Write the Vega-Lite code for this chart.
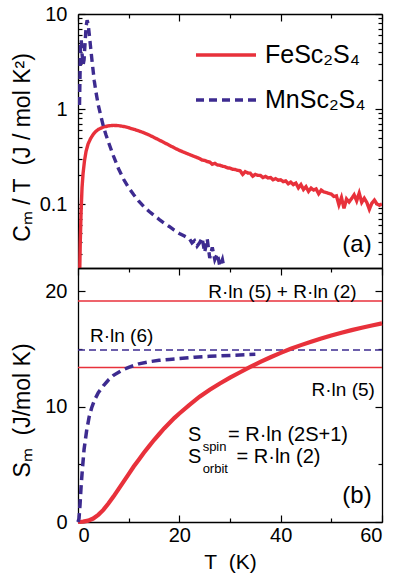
{
  "$schema": "https://vega.github.io/schema/vega-lite/v6.json",
  "padding": {"left": 10, "top": 4, "right": 5, "bottom": 5},
  "background": "white",
  "config": {
    "font": "Liberation Sans",
    "view": {"stroke": null},
    "axis": {
      "grid": false,
      "domainColor": "black",
      "domainWidth": 1.3,
      "tickColor": "black",
      "tickWidth": 1.2,
      "labelColor": "black",
      "labelFontSize": 20,
      "titleColor": "black",
      "titleFontSize": 23,
      "titleFontWeight": "normal"
    },
    "text": {"color": "black"}
  },
  "datasets": {
    "cT": [
      {"T": 0.3, "C": 0.015, "s": "FeSc₂S₄"}, {"T": 0.45, "C": 0.04, "s": "FeSc₂S₄"}, {"T": 0.6, "C": 0.08, "s": "FeSc₂S₄"},
      {"T": 0.8, "C": 0.15, "s": "FeSc₂S₄"}, {"T": 1.0, "C": 0.21, "s": "FeSc₂S₄"}, {"T": 1.3, "C": 0.29, "s": "FeSc₂S₄"},
      {"T": 1.6, "C": 0.36, "s": "FeSc₂S₄"}, {"T": 2.0, "C": 0.43, "s": "FeSc₂S₄"}, {"T": 2.5, "C": 0.49, "s": "FeSc₂S₄"},
      {"T": 3.0, "C": 0.54, "s": "FeSc₂S₄"}, {"T": 3.5, "C": 0.58, "s": "FeSc₂S₄"}, {"T": 4.0, "C": 0.61, "s": "FeSc₂S₄"},
      {"T": 5.0, "C": 0.645, "s": "FeSc₂S₄"}, {"T": 6.0, "C": 0.665, "s": "FeSc₂S₄"}, {"T": 7.0, "C": 0.672, "s": "FeSc₂S₄"},
      {"T": 8.0, "C": 0.668, "s": "FeSc₂S₄"}, {"T": 9.0, "C": 0.655, "s": "FeSc₂S₄"}, {"T": 10, "C": 0.635, "s": "FeSc₂S₄"},
      {"T": 11, "C": 0.612, "s": "FeSc₂S₄"}, {"T": 12, "C": 0.588, "s": "FeSc₂S₄"}, {"T": 13, "C": 0.562, "s": "FeSc₂S₄"},
      {"T": 14, "C": 0.533, "s": "FeSc₂S₄"}, {"T": 15, "C": 0.502, "s": "FeSc₂S₄"}, {"T": 16, "C": 0.472, "s": "FeSc₂S₄"},
      {"T": 17, "C": 0.443, "s": "FeSc₂S₄"}, {"T": 18, "C": 0.416, "s": "FeSc₂S₄"}, {"T": 19, "C": 0.39, "s": "FeSc₂S₄"},
      {"T": 20, "C": 0.367, "s": "FeSc₂S₄"}, {"T": 21, "C": 0.349, "s": "FeSc₂S₄"}, {"T": 22, "C": 0.332, "s": "FeSc₂S₄"},
      {"T": 23, "C": 0.316, "s": "FeSc₂S₄"}, {"T": 24, "C": 0.301, "s": "FeSc₂S₄"}, {"T": 24.5, "C": 0.29, "s": "FeSc₂S₄"},
      {"T": 25, "C": 0.288, "s": "FeSc₂S₄"}, {"T": 25.5, "C": 0.28, "s": "FeSc₂S₄"}, {"T": 26, "C": 0.276, "s": "FeSc₂S₄"},
      {"T": 26.5, "C": 0.262, "s": "FeSc₂S₄"}, {"T": 27, "C": 0.268, "s": "FeSc₂S₄"}, {"T": 27.5, "C": 0.258, "s": "FeSc₂S₄"},
      {"T": 28, "C": 0.256, "s": "FeSc₂S₄"}, {"T": 28.5, "C": 0.25, "s": "FeSc₂S₄"}, {"T": 29, "C": 0.247, "s": "FeSc₂S₄"},
      {"T": 29.5, "C": 0.24, "s": "FeSc₂S₄"}, {"T": 30, "C": 0.239, "s": "FeSc₂S₄"}, {"T": 30.5, "C": 0.232, "s": "FeSc₂S₄"},
      {"T": 31, "C": 0.231, "s": "FeSc₂S₄"}, {"T": 31.5, "C": 0.226, "s": "FeSc₂S₄"}, {"T": 32, "C": 0.224, "s": "FeSc₂S₄"},
      {"T": 32.5, "C": 0.205, "s": "FeSc₂S₄"}, {"T": 33, "C": 0.219, "s": "FeSc₂S₄"}, {"T": 33.5, "C": 0.212, "s": "FeSc₂S₄"},
      {"T": 34, "C": 0.211, "s": "FeSc₂S₄"}, {"T": 34.5, "C": 0.196, "s": "FeSc₂S₄"}, {"T": 35, "C": 0.205, "s": "FeSc₂S₄"},
      {"T": 35.5, "C": 0.2, "s": "FeSc₂S₄"}, {"T": 36, "C": 0.2, "s": "FeSc₂S₄"}, {"T": 36.5, "C": 0.19, "s": "FeSc₂S₄"},
      {"T": 37, "C": 0.195, "s": "FeSc₂S₄"}, {"T": 37.5, "C": 0.188, "s": "FeSc₂S₄"}, {"T": 38, "C": 0.19, "s": "FeSc₂S₄"},
      {"T": 38.5, "C": 0.18, "s": "FeSc₂S₄"}, {"T": 39, "C": 0.185, "s": "FeSc₂S₄"}, {"T": 39.5, "C": 0.178, "s": "FeSc₂S₄"},
      {"T": 40, "C": 0.18, "s": "FeSc₂S₄"}, {"T": 40.5, "C": 0.172, "s": "FeSc₂S₄"}, {"T": 41, "C": 0.175, "s": "FeSc₂S₄"},
      {"T": 41.5, "C": 0.163, "s": "FeSc₂S₄"}, {"T": 42, "C": 0.17, "s": "FeSc₂S₄"}, {"T": 42.5, "C": 0.16, "s": "FeSc₂S₄"},
      {"T": 43, "C": 0.166, "s": "FeSc₂S₄"}, {"T": 43.5, "C": 0.148, "s": "FeSc₂S₄"}, {"T": 44, "C": 0.16, "s": "FeSc₂S₄"},
      {"T": 44.5, "C": 0.142, "s": "FeSc₂S₄"}, {"T": 45, "C": 0.152, "s": "FeSc₂S₄"}, {"T": 45.5, "C": 0.136, "s": "FeSc₂S₄"},
      {"T": 46, "C": 0.147, "s": "FeSc₂S₄"}, {"T": 46.5, "C": 0.14, "s": "FeSc₂S₄"}, {"T": 47, "C": 0.144, "s": "FeSc₂S₄"},
      {"T": 47.5, "C": 0.128, "s": "FeSc₂S₄"}, {"T": 48, "C": 0.14, "s": "FeSc₂S₄"}, {"T": 48.5, "C": 0.134, "s": "FeSc₂S₄"},
      {"T": 49, "C": 0.132, "s": "FeSc₂S₄"}, {"T": 49.5, "C": 0.129, "s": "FeSc₂S₄"}, {"T": 50, "C": 0.127, "s": "FeSc₂S₄"},
      {"T": 50.5, "C": 0.12, "s": "FeSc₂S₄"}, {"T": 51, "C": 0.122, "s": "FeSc₂S₄"}, {"T": 51.5, "C": 0.098, "s": "FeSc₂S₄"},
      {"T": 52, "C": 0.117, "s": "FeSc₂S₄"}, {"T": 52.5, "C": 0.09, "s": "FeSc₂S₄"}, {"T": 53, "C": 0.113, "s": "FeSc₂S₄"},
      {"T": 53.5, "C": 0.105, "s": "FeSc₂S₄"}, {"T": 54, "C": 0.114, "s": "FeSc₂S₄"}, {"T": 54.5, "C": 0.125, "s": "FeSc₂S₄"},
      {"T": 55, "C": 0.108, "s": "FeSc₂S₄"}, {"T": 55.5, "C": 0.13, "s": "FeSc₂S₄"}, {"T": 56, "C": 0.104, "s": "FeSc₂S₄"},
      {"T": 56.5, "C": 0.115, "s": "FeSc₂S₄"}, {"T": 57, "C": 0.104, "s": "FeSc₂S₄"}, {"T": 57.5, "C": 0.088, "s": "FeSc₂S₄"},
      {"T": 58, "C": 0.102, "s": "FeSc₂S₄"}, {"T": 58.5, "C": 0.11, "s": "FeSc₂S₄"}, {"T": 59, "C": 0.1, "s": "FeSc₂S₄"},
      {"T": 59.5, "C": 0.097, "s": "FeSc₂S₄"}, {"T": 60, "C": 0.1, "s": "FeSc₂S₄"},
      {"T": 0.3, "C": 1.1, "s": "MnSc₂S₄"}, {"T": 0.4, "C": 2.2, "s": "MnSc₂S₄"}, {"T": 0.5, "C": 4.8, "s": "MnSc₂S₄"},
      {"T": 0.65, "C": 5.3, "s": "MnSc₂S₄"}, {"T": 0.8, "C": 3.8, "s": "MnSc₂S₄"}, {"T": 1.0, "C": 2.9, "s": "MnSc₂S₄"},
      {"T": 1.2, "C": 3.3, "s": "MnSc₂S₄"}, {"T": 1.4, "C": 5.0, "s": "MnSc₂S₄"}, {"T": 1.6, "C": 7.4, "s": "MnSc₂S₄"},
      {"T": 1.8, "C": 8.6, "s": "MnSc₂S₄"}, {"T": 2.0, "C": 7.9, "s": "MnSc₂S₄"}, {"T": 2.2, "C": 6.3, "s": "MnSc₂S₄"},
      {"T": 2.5, "C": 4.4, "s": "MnSc₂S₄"}, {"T": 2.8, "C": 3.1, "s": "MnSc₂S₄"}, {"T": 3.2, "C": 2.0, "s": "MnSc₂S₄"},
      {"T": 3.6, "C": 1.45, "s": "MnSc₂S₄"}, {"T": 4.0, "C": 1.1, "s": "MnSc₂S₄"}, {"T": 4.5, "C": 0.85, "s": "MnSc₂S₄"},
      {"T": 5.0, "C": 0.66, "s": "MnSc₂S₄"}, {"T": 5.5, "C": 0.54, "s": "MnSc₂S₄"}, {"T": 6.0, "C": 0.45, "s": "MnSc₂S₄"},
      {"T": 7.0, "C": 0.32, "s": "MnSc₂S₄"}, {"T": 8.0, "C": 0.235, "s": "MnSc₂S₄"}, {"T": 9.0, "C": 0.182, "s": "MnSc₂S₄"},
      {"T": 10, "C": 0.148, "s": "MnSc₂S₄"}, {"T": 11, "C": 0.125, "s": "MnSc₂S₄"}, {"T": 12, "C": 0.107, "s": "MnSc₂S₄"},
      {"T": 13, "C": 0.094, "s": "MnSc₂S₄"}, {"T": 14, "C": 0.084, "s": "MnSc₂S₄"}, {"T": 15, "C": 0.076, "s": "MnSc₂S₄"},
      {"T": 16, "C": 0.069, "s": "MnSc₂S₄"}, {"T": 17, "C": 0.063, "s": "MnSc₂S₄"}, {"T": 18, "C": 0.058, "s": "MnSc₂S₄"},
      {"T": 19, "C": 0.053, "s": "MnSc₂S₄"}, {"T": 20, "C": 0.049, "s": "MnSc₂S₄"}, {"T": 21, "C": 0.046, "s": "MnSc₂S₄"},
      {"T": 22, "C": 0.043, "s": "MnSc₂S₄"}, {"T": 22.5, "C": 0.039, "s": "MnSc₂S₄"}, {"T": 23, "C": 0.041, "s": "MnSc₂S₄"},
      {"T": 23.5, "C": 0.036, "s": "MnSc₂S₄"}, {"T": 24, "C": 0.039, "s": "MnSc₂S₄"}, {"T": 24.5, "C": 0.044, "s": "MnSc₂S₄"},
      {"T": 25, "C": 0.031, "s": "MnSc₂S₄"}, {"T": 25.5, "C": 0.043, "s": "MnSc₂S₄"}, {"T": 26, "C": 0.027, "s": "MnSc₂S₄"},
      {"T": 26.5, "C": 0.035, "s": "MnSc₂S₄"}, {"T": 27, "C": 0.026, "s": "MnSc₂S₄"}, {"T": 27.5, "C": 0.03, "s": "MnSc₂S₄"},
      {"T": 28, "C": 0.022, "s": "MnSc₂S₄"}, {"T": 28.5, "C": 0.026, "s": "MnSc₂S₄"}, {"T": 29, "C": 0.019, "s": "MnSc₂S₄"}
    ],
    "sT": [
      {"T": 0, "S": 0, "s": "Fe"}, {"T": 1, "S": 0.03, "s": "Fe"}, {"T": 2, "S": 0.12, "s": "Fe"}, {"T": 3, "S": 0.3, "s": "Fe"},
      {"T": 4, "S": 0.62, "s": "Fe"}, {"T": 5, "S": 1.05, "s": "Fe"}, {"T": 6, "S": 1.6, "s": "Fe"}, {"T": 7, "S": 2.2, "s": "Fe"},
      {"T": 8, "S": 2.85, "s": "Fe"}, {"T": 9, "S": 3.5, "s": "Fe"}, {"T": 10, "S": 4.15, "s": "Fe"}, {"T": 11, "S": 4.8, "s": "Fe"},
      {"T": 12, "S": 5.4, "s": "Fe"}, {"T": 13, "S": 6.0, "s": "Fe"}, {"T": 14, "S": 6.55, "s": "Fe"}, {"T": 15, "S": 7.1, "s": "Fe"},
      {"T": 16, "S": 7.6, "s": "Fe"}, {"T": 17, "S": 8.1, "s": "Fe"}, {"T": 18, "S": 8.55, "s": "Fe"}, {"T": 19, "S": 9.0, "s": "Fe"},
      {"T": 20, "S": 9.4, "s": "Fe"}, {"T": 22, "S": 10.15, "s": "Fe"}, {"T": 24, "S": 10.85, "s": "Fe"}, {"T": 26, "S": 11.45, "s": "Fe"},
      {"T": 28, "S": 12.0, "s": "Fe"}, {"T": 30, "S": 12.5, "s": "Fe"}, {"T": 32, "S": 12.97, "s": "Fe"}, {"T": 34, "S": 13.43, "s": "Fe"},
      {"T": 36, "S": 13.86, "s": "Fe"}, {"T": 38, "S": 14.27, "s": "Fe"}, {"T": 40, "S": 14.65, "s": "Fe"}, {"T": 42, "S": 15.0, "s": "Fe"},
      {"T": 44, "S": 15.32, "s": "Fe"}, {"T": 46, "S": 15.62, "s": "Fe"}, {"T": 48, "S": 15.9, "s": "Fe"}, {"T": 50, "S": 16.16, "s": "Fe"},
      {"T": 52, "S": 16.4, "s": "Fe"}, {"T": 54, "S": 16.62, "s": "Fe"}, {"T": 56, "S": 16.83, "s": "Fe"}, {"T": 58, "S": 17.02, "s": "Fe"},
      {"T": 60, "S": 17.2, "s": "Fe"},
      {"T": 0, "S": 0, "s": "Mn"}, {"T": 0.2, "S": 0.3, "s": "Mn"}, {"T": 0.4, "S": 1.5, "s": "Mn"}, {"T": 0.6, "S": 3.0, "s": "Mn"},
      {"T": 0.85, "S": 4.5, "s": "Mn"}, {"T": 1.2, "S": 6.3, "s": "Mn"}, {"T": 1.7, "S": 7.9, "s": "Mn"}, {"T": 2.2, "S": 9.1, "s": "Mn"},
      {"T": 2.7, "S": 9.9, "s": "Mn"}, {"T": 3.3, "S": 10.6, "s": "Mn"}, {"T": 4, "S": 11.2, "s": "Mn"}, {"T": 5, "S": 11.8, "s": "Mn"},
      {"T": 6, "S": 12.3, "s": "Mn"}, {"T": 7, "S": 12.7, "s": "Mn"}, {"T": 8.5, "S": 13.1, "s": "Mn"}, {"T": 10, "S": 13.4, "s": "Mn"},
      {"T": 12, "S": 13.7, "s": "Mn"}, {"T": 14, "S": 13.88, "s": "Mn"}, {"T": 16, "S": 14.0, "s": "Mn"}, {"T": 18, "S": 14.08, "s": "Mn"},
      {"T": 20, "S": 14.15, "s": "Mn"}, {"T": 23, "S": 14.27, "s": "Mn"}, {"T": 26, "S": 14.35, "s": "Mn"}, {"T": 30, "S": 14.43, "s": "Mn"},
      {"T": 35, "S": 14.52, "s": "Mn"}
    ],
    "limits": [
      {"label": "R·ln (5) + R·ln (2)", "S": 19.14, "kind": "spin+orbit"},
      {"label": "R·ln (5)", "S": 13.38, "kind": "spin"},
      {"label": "R·ln (6)", "S": 14.9, "kind": "Mn"}
    ]
  },
  "spacing": 0,
  "bounds": "flush",
  "vconcat": [
    {
      "width": 304,
      "height": 254,
      "layer": [
        {
          "data": {"name": "cT"},
          "mark": {"type": "line", "strokeWidth": 3.4, "clip": true},
          "encoding": {
            "x": {
              "field": "T", "type": "quantitative",
              "scale": {"domain": [0, 60], "nice": false},
              "axis": {"orient": "bottom", "ticks": false, "labels": false, "title": null}
            },
            "y": {
              "field": "C", "type": "quantitative",
              "scale": {"type": "log", "domain": [0.0212, 10], "nice": false},
              "axis": {
                "orient": "left",
                "values": [0.03, 0.04, 0.05, 0.06, 0.07, 0.08, 0.09, 0.1, 0.2, 0.3, 0.4, 0.5, 0.6, 0.7, 0.8, 0.9, 1, 2, 3, 4, 5, 6, 7, 8, 9, 10],
                "labelExpr": "datum.value == 10 ? '10' : datum.value == 1 ? '1' : datum.value == 0.1 ? '0.1' : ''",
                "tickSize": {"condition": {"test": "datum.value == 0.1 || datum.value == 1 || datum.value == 10", "value": -7}, "value": -4},
                "labelPadding": 18,
                "title": "Cₘ / T\u00a0\u00a0(J / mol K²)",
                "titleX": -44,
                "titleY": 133
              }
            },
            "color": {
              "field": "s", "type": "nominal",
              "scale": {"domain": ["FeSc₂S₄", "MnSc₂S₄"], "range": ["#e8313b", "#3d2b90"]},
              "legend": {"orient": "none", "legendX": 116, "legendY": 9, "title": null, "padding": 0, "symbolType": "stroke", "symbolSize": 3600, "symbolStrokeWidth": 3.5, "labelFontSize": 25, "labelOffset": 7, "rowPadding": -21, "labelColor": "black", "labelLimit": 0}
            },
            "strokeDash": {
              "field": "s", "type": "nominal",
              "scale": {"domain": ["FeSc₂S₄", "MnSc₂S₄"], "range": [[1, 0], [8, 5]]},
              "legend": {"orient": "none", "legendX": 116, "legendY": 9, "title": null, "padding": 0, "symbolType": "stroke", "symbolSize": 3600, "symbolStrokeWidth": 3.5, "labelFontSize": 25, "labelOffset": 7, "rowPadding": -21, "labelColor": "black", "labelLimit": 0}
            }
          }
        },
        {
          "data": {"values": [{"label": "(a)"}]},
          "mark": {"type": "text", "align": "right", "baseline": "alphabetic", "fontSize": 24},
          "encoding": {
            "text": {"field": "label"},
            "x": {
              "datum": 57.96, "type": "quantitative",
              "axis": {"orient": "top", "labels": false, "title": null, "values": [0, 10, 20, 30, 40, 50, 60],
                       "tickSize": {"condition": {"test": "datum.value % 20 == 0", "value": -7}, "value": -4}}
            },
            "y": {
              "datum": 0.0315, "type": "quantitative",
              "axis": {"orient": "right", "labels": false, "title": null,
                       "values": [0.03, 0.04, 0.05, 0.06, 0.07, 0.08, 0.09, 0.1, 0.2, 0.3, 0.4, 0.5, 0.6, 0.7, 0.8, 0.9, 1, 2, 3, 4, 5, 6, 7, 8, 9, 10],
                       "tickSize": {"condition": {"test": "datum.value == 0.1 || datum.value == 1 || datum.value == 10", "value": -7}, "value": -4}}
            }
          }
        }
      ],
      "resolve": {"axis": {"x": "independent", "y": "independent"}}
    },
    {
      "width": 304,
      "height": 254,
      "layer": [
        {
          "data": {"name": "limits"},
          "transform": [{"filter": "datum.kind != 'Mn'"}],
          "mark": {"type": "rule", "color": "#e8313b", "strokeWidth": 1.6},
          "encoding": {"y": {"field": "S", "type": "quantitative", "axis": null}}
        },
        {
          "data": {"name": "limits"},
          "transform": [{"filter": "datum.kind == 'Mn'"}],
          "mark": {"type": "rule", "color": "#3d2b90", "strokeWidth": 1.6, "strokeDash": [7, 4]},
          "encoding": {"y": {"field": "S", "type": "quantitative", "axis": null}}
        },
        {
          "data": {"name": "sT"},
          "transform": [{"filter": "datum.s == 'Fe'"}],
          "mark": {"type": "line", "color": "#e8313b", "strokeWidth": 4.2},
          "encoding": {
            "x": {
              "field": "T", "type": "quantitative",
              "scale": {"domain": [0, 60], "nice": false},
              "axis": {
                "orient": "bottom",
                "values": [0, 10, 20, 30, 40, 50, 60],
                "labelExpr": "datum.value % 20 == 0 ? datum.label : ''",
                "tickSize": {"condition": {"test": "datum.value % 20 == 0", "value": -7}, "value": -4},
                "labelPadding": 10,
                "title": "T\u00a0\u00a0(K)",
                "titleFontSize": 21,
                "titlePadding": 6
              }
            },
            "y": {
              "field": "S", "type": "quantitative",
              "scale": {"domain": [0, 22], "nice": false},
              "axis": {
                "orient": "left",
                "values": [0, 5, 10, 15, 20],
                "labelExpr": "datum.value % 10 == 0 ? datum.label : ''",
                "tickSize": {"condition": {"test": "datum.value % 10 == 0", "value": -7}, "value": -4},
                "labelPadding": 18,
                "title": "Sₘ\u00a0\u00a0(J/mol K)",
                "titleX": -44,
                "titleY": 142
              }
            }
          }
        },
        {
          "data": {"name": "sT"},
          "transform": [{"filter": "datum.s == 'Mn'"}],
          "mark": {"type": "line", "color": "#3d2b90", "strokeWidth": 3.5, "strokeDash": [9, 5]},
          "encoding": {
            "x": {"field": "T", "type": "quantitative", "axis": null},
            "y": {"field": "S", "type": "quantitative", "axis": null}
          }
        },
        {
          "data": {"values": [{"label": "R·ln (5) + R·ln (2)"}]},
          "mark": {"type": "text", "align": "left", "baseline": "alphabetic", "fontSize": 19},
          "encoding": {
            "text": {"field": "label"},
            "x": {
              "datum": 25.7, "type": "quantitative",
              "axis": {"orient": "top", "labels": false, "title": null, "values": [0, 10, 20, 30, 40, 50, 60],
                       "tickSize": {"condition": {"test": "datum.value % 20 == 0", "value": -7}, "value": -4}}
            },
            "y": {
              "datum": 19.38, "type": "quantitative",
              "axis": {"orient": "right", "labels": false, "title": null, "values": [0, 5, 10, 15, 20],
                       "tickSize": {"condition": {"test": "datum.value % 10 == 0", "value": -7}, "value": -4}}
            }
          }
        },
        {
          "data": {"values": [{"label": "R·ln (6)"}]},
          "mark": {"type": "text", "align": "left", "baseline": "alphabetic", "fontSize": 19},
          "encoding": {
            "text": {"field": "label"},
            "x": {"datum": 2.37, "type": "quantitative", "axis": null},
            "y": {"datum": 15.63, "type": "quantitative", "axis": null}
          }
        },
        {
          "data": {"values": [{"label": "R·ln (5)"}]},
          "mark": {"type": "text", "align": "left", "baseline": "alphabetic", "fontSize": 19},
          "encoding": {
            "text": {"field": "label"},
            "x": {"datum": 46.1, "type": "quantitative", "axis": null},
            "y": {"datum": 10.93, "type": "quantitative", "axis": null}
          }
        },
        {
          "data": {"values": [{"label": "S"}]},
          "mark": {"type": "text", "align": "left", "baseline": "alphabetic", "fontSize": 20},
          "encoding": {
            "text": {"field": "label"},
            "x": {"datum": 21.7, "type": "quantitative", "axis": null},
            "y": {"datum": 6.98, "type": "quantitative", "axis": null}
          }
        },
        {
          "data": {"values": [{"label": "spin"}]},
          "mark": {"type": "text", "align": "left", "baseline": "alphabetic", "fontSize": 13},
          "encoding": {
            "text": {"field": "label"},
            "x": {"datum": 24.6, "type": "quantitative", "axis": null},
            "y": {"datum": 6.12, "type": "quantitative", "axis": null}
          }
        },
        {
          "data": {"values": [{"label": "= R·ln (2S+1)"}]},
          "mark": {"type": "text", "align": "left", "baseline": "alphabetic", "fontSize": 20},
          "encoding": {
            "text": {"field": "label"},
            "x": {"datum": 29.6, "type": "quantitative", "axis": null},
            "y": {"datum": 6.98, "type": "quantitative", "axis": null}
          }
        },
        {
          "data": {"values": [{"label": "S"}]},
          "mark": {"type": "text", "align": "left", "baseline": "alphabetic", "fontSize": 20},
          "encoding": {
            "text": {"field": "label"},
            "x": {"datum": 21.7, "type": "quantitative", "axis": null},
            "y": {"datum": 5.12, "type": "quantitative", "axis": null}
          }
        },
        {
          "data": {"values": [{"label": "orbit"}]},
          "mark": {"type": "text", "align": "left", "baseline": "alphabetic", "fontSize": 13},
          "encoding": {
            "text": {"field": "label"},
            "x": {"datum": 24.6, "type": "quantitative", "axis": null},
            "y": {"datum": 4.25, "type": "quantitative", "axis": null}
          }
        },
        {
          "data": {"values": [{"label": "= R·ln (2)"}]},
          "mark": {"type": "text", "align": "left", "baseline": "alphabetic", "fontSize": 20},
          "encoding": {
            "text": {"field": "label"},
            "x": {"datum": 31.3, "type": "quantitative", "axis": null},
            "y": {"datum": 5.12, "type": "quantitative", "axis": null}
          }
        },
        {
          "data": {"values": [{"label": "(b)"}]},
          "mark": {"type": "text", "align": "right", "baseline": "alphabetic", "fontSize": 24},
          "encoding": {
            "text": {"field": "label"},
            "x": {"datum": 57.96, "type": "quantitative", "axis": null},
            "y": {"datum": 1.66, "type": "quantitative", "axis": null}
          }
        }
      ],
      "resolve": {"axis": {"x": "independent", "y": "independent"}}
    }
  ]
}
